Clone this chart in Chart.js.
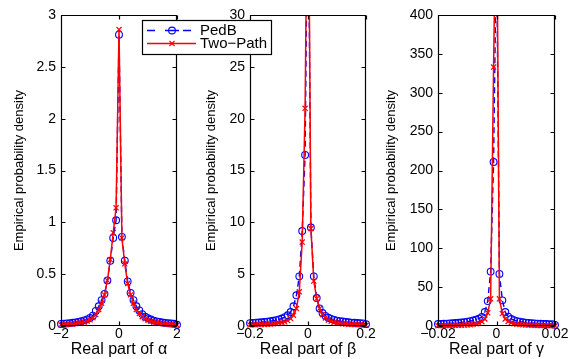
<!DOCTYPE html>
<html>
<head>
<meta charset="utf-8">
<title>Empirical probability density</title>
<script src="https://cdn.jsdelivr.net/npm/chart.js@4.4.1/dist/chart.umd.min.js"></script>
<style>
  body { margin: 0; background: #fff; }
  #wrap { position: relative; width: 570px; height: 359px; overflow: hidden; }
  #wrap canvas { position: absolute; left: 0; top: 0; }
</style>
</head>
<body>
<div id="wrap">
  <canvas id="beta" width="570" height="359"></canvas>
  <canvas id="gamma" width="570" height="359"></canvas>
  <canvas id="alpha" width="570" height="359"></canvas>
</div>
<script>
// histogram bin centres and densities for the three coefficients
const alphaX = [-2, -1.9, -1.8, -1.7, -1.6, -1.5, -1.4, -1.3, -1.2, -1.1, -1, -0.9, -0.8, -0.7, -0.6, -0.5, -0.4, -0.3, -0.2, -0.1,
  0, 0.1, 0.2, 0.3, 0.4, 0.5, 0.6, 0.7, 0.8, 0.9, 1, 1.1, 1.2, 1.3, 1.4, 1.5, 1.6, 1.7, 1.8, 1.9, 2];
const alphaPedB = [0.02, 0.022, 0.025, 0.028, 0.031, 0.035, 0.04, 0.046, 0.054, 0.064, 0.078, 0.1, 0.145, 0.19, 0.25, 0.31, 0.44, 0.63, 0.85, 1.02,
  2.81, 0.86, 0.63, 0.43, 0.32, 0.25, 0.19, 0.15, 0.115, 0.09, 0.075, 0.062, 0.052, 0.045, 0.039, 0.034, 0.03, 0.027, 0.024, 0.021, 0.012];
const alphaTwoPath = [0.012, 0.014, 0.016, 0.018, 0.02, 0.023, 0.027, 0.032, 0.038, 0.047, 0.06, 0.08, 0.11, 0.16, 0.22, 0.3, 0.44, 0.64, 0.9, 1.14,
  2.86, 0.85, 0.6, 0.41, 0.3, 0.22, 0.16, 0.12, 0.09, 0.07, 0.056, 0.046, 0.038, 0.032, 0.027, 0.023, 0.02, 0.017, 0.015, 0.013, 0.008];

const betaX = [-0.2, -0.19, -0.18, -0.17, -0.16, -0.15, -0.14, -0.13, -0.12, -0.11, -0.1, -0.09, -0.08, -0.07, -0.06, -0.05, -0.04, -0.03, -0.02, -0.01,
  0, 0.01, 0.02, 0.03, 0.04, 0.05, 0.06, 0.07, 0.08, 0.09, 0.1, 0.11, 0.12, 0.13, 0.14, 0.15, 0.16, 0.17, 0.18, 0.19, 0.2];
const betaPedB = [0.28, 0.3, 0.32, 0.34, 0.36, 0.39, 0.42, 0.46, 0.5, 0.56, 0.63, 0.72, 0.85, 1.03, 1.35, 1.9, 2.96, 4.79, 9.16, 16.5,
  45, 9.5, 4.79, 2.7, 1.7, 1.25, 0.98, 0.8, 0.68, 0.59, 0.52, 0.47, 0.43, 0.39, 0.36, 0.33, 0.31, 0.29, 0.27, 0.25, 0.18];
const betaTwoPath = [0.1, 0.11, 0.12, 0.13, 0.14, 0.15, 0.17, 0.19, 0.21, 0.24, 0.28, 0.33, 0.4, 0.52, 0.72, 1.03, 1.68, 3.3, 8.1, 21,
  50, 9.4, 4.34, 2.64, 1.68, 1.1, 0.78, 0.58, 0.45, 0.36, 0.3, 0.26, 0.22, 0.19, 0.17, 0.15, 0.13, 0.12, 0.11, 0.1, 0.07];

const gammaX = [-0.02, -0.019, -0.018, -0.017, -0.016, -0.015, -0.014, -0.013, -0.012, -0.011, -0.01, -0.009, -0.008, -0.007, -0.006, -0.005, -0.004, -0.003, -0.002, -0.001,
  0, 0.001, 0.002, 0.003, 0.004, 0.005, 0.006, 0.007, 0.008, 0.009, 0.01, 0.011, 0.012, 0.013, 0.014, 0.015, 0.016, 0.017, 0.018, 0.019, 0.02];
const gammaPedB = [2.5, 2.7, 2.9, 3.1, 3.3, 3.5, 3.8, 4.1, 4.5, 5, 5.5, 6.2, 7, 8, 9.5, 11.6, 18, 32, 70, 211,
  500, 67, 33, 18, 12, 9, 7.5, 6.3, 5.5, 4.8, 4.3, 3.9, 3.6, 3.3, 3.1, 2.9, 2.7, 2.5, 2.4, 2.2, 1.5];
const gammaTwoPath = [0.4, 0.45, 0.5, 0.55, 0.6, 0.7, 0.8, 0.9, 1, 1.2, 1.4, 1.7, 2.1, 2.7, 3.6, 5.5, 9, 17, 35, 333,
  600, 35, 16, 9, 5.8, 4, 3, 2.3, 1.9, 1.6, 1.3, 1.1, 0.95, 0.8, 0.7, 0.6, 0.55, 0.5, 0.45, 0.4, 0.3];

// axis ticks
const alphaXTicks = [-2, 0, 2];
const alphaXLabels = ['\u22122', '0', '2'];
const alphaYTicks = [0, 0.5, 1, 1.5, 2, 2.5, 3];
const betaXTicks = [-0.2, 0, 0.2];
const betaXLabels = ['\u22120.2', '0', '0.2'];
const betaYTicks = [0, 5, 10, 15, 20, 25, 30];
const gammaXTicks = [-0.02, 0, 0.02];
const gammaXLabels = ['\u22120.02', '0', '0.02'];
const gammaYTicks = [0, 50, 100, 150, 200, 250, 300, 350, 400];

const seriesNames = ['PedB', 'Two\u2212Path'];

const FONT = '"Liberation Sans", Arial, Helvetica, sans-serif';
Chart.defaults.font.family = FONT;
Chart.defaults.color = '#000';

const W = 570, H = 359;
const AREA_TOP = 15, AREA_BOTTOM = 326;
const Y_TITLE_SIZE = 13;

// box around the plot area with inward ticks on all four sides
const frame = {
  id: 'frame',
  afterDatasetsDraw(chart) {
    const { ctx, chartArea: a, scales: { x, y } } = chart;
    const l = Math.round(a.left) + 0.5, r = Math.round(a.right) - 0.5;
    const t = Math.round(a.top) + 0.5, b = Math.round(a.bottom) - 0.5;
    ctx.save();
    ctx.strokeStyle = '#000';
    ctx.lineWidth = 1.2;
    ctx.beginPath();
    y.ticks.forEach(tk => {
      const py = Math.round(y.getPixelForValue(tk.value)) + 0.5;
      ctx.moveTo(l, py); ctx.lineTo(l + 4, py);
      ctx.moveTo(r, py); ctx.lineTo(r - 4, py);
    });
    x.ticks.forEach(tk => {
      const px = Math.round(x.getPixelForValue(tk.value)) + 0.5;
      ctx.moveTo(px, b); ctx.lineTo(px, b - 4);
      ctx.moveTo(px, t); ctx.lineTo(px, t + 4);
    });
    ctx.rect(l, t, r - l, b - t);
    ctx.stroke();
    ctx.restore();
  }
};

// legend box drawn with the first panel, on top of everything
const legendBox = {
  id: 'legendBox',
  afterDraw(chart) {
    const ctx = chart.ctx;
    const [ped, two] = chart.data.datasets;
    const bx = 142, by = 20, bw = 129, bh = 34;
    ctx.save();
    ctx.fillStyle = '#fff';
    ctx.fillRect(bx, by, bw, bh);
    ctx.strokeStyle = '#000';
    ctx.lineWidth = 1.2;
    ctx.strokeRect(bx + 0.5, by + 0.5, bw, bh);

    const y1 = 30.5, y2 = 43.5;
    ctx.strokeStyle = ped.borderColor;
    ctx.lineWidth = ped.borderWidth;
    ctx.beginPath();
    ctx.moveTo(147, y1); ctx.lineTo(155, y1);
    ctx.moveTo(165, y1); ctx.lineTo(179, y1);
    ctx.moveTo(183, y1); ctx.lineTo(191, y1);
    ctx.stroke();
    ctx.fillStyle = 'rgba(0,0,0,0)';
    ctx.lineWidth = ped.pointBorderWidth;
    Chart.helpers.drawPoint(ctx, { pointStyle: ped.pointStyle, radius: ped.pointRadius, borderWidth: 1, rotation: 0 }, 172, y1);

    ctx.strokeStyle = two.borderColor;
    ctx.lineWidth = two.borderWidth;
    ctx.beginPath();
    ctx.moveTo(147, y2); ctx.lineTo(196, y2);
    ctx.stroke();
    ctx.lineWidth = two.pointBorderWidth;
    Chart.helpers.drawPoint(ctx, { pointStyle: two.pointStyle, radius: two.pointRadius, borderWidth: 1, rotation: 0 }, 172, y2);

    ctx.fillStyle = '#000';
    ctx.font = '15px ' + FONT;
    ctx.textBaseline = 'middle';
    ctx.textAlign = 'left';
    ctx.fillText(ped.label, 200, y1);
    ctx.fillText(two.label, 200, y2 + 0.5);
    ctx.restore();
  }
};

function points(xs, ys) {
  return xs.map((x, i) => ({ x, y: ys[i] }));
}

function makePanel(id, p, extra) {
  const padLeft = p.titleX - Y_TITLE_SIZE * 1.2 / 2;
  const clip = { left: 6, right: 6, top: 0, bottom: 6 };
  return new Chart(document.getElementById(id), {
    type: 'line',
    data: {
      datasets: [
        {
          label: seriesNames[0],
          data: points(p.x, p.pedB),
          borderColor: '#0000ff',
          borderWidth: 1.4,
          borderDash: [6, 4],
          pointStyle: 'circle',
          pointRadius: 3.4,
          pointBorderWidth: 1.1,
          pointBorderColor: '#0000ff',
          pointBackgroundColor: 'rgba(0,0,0,0)',
          tension: 0,
          order: 1,
          clip
        },
        {
          label: seriesNames[1],
          data: points(p.x, p.twoPath),
          borderColor: '#ff0000',
          borderWidth: 1.5,
          pointStyle: 'crossRot',
          pointRadius: 3.6,
          pointBorderWidth: 1.2,
          pointBorderColor: '#ff0000',
          tension: 0,
          order: 0,
          clip
        }
      ]
    },
    options: {
      responsive: false,
      animation: false,
      events: [],
      layout: { padding: { left: padLeft, right: W - p.right, top: AREA_TOP, bottom: 0 } },
      plugins: { legend: { display: false }, tooltip: { enabled: false } },
      scales: {
        x: {
          type: 'linear',
          min: p.xTicks[0],
          max: p.xTicks[p.xTicks.length - 1],
          grid: { display: false, drawTicks: false },
          border: { display: false },
          afterBuildTicks: s => { s.ticks = p.xTicks.map(v => ({ value: v })); },
          ticks: { padding: 0, maxRotation: 0, autoSkip: false, font: { size: 14 }, callback: (v, i) => p.xLabels[i] },
          title: { display: true, text: p.xTitle, font: { size: 16 }, padding: 0 },
          afterFit: s => { s.height = H - AREA_BOTTOM; }
        },
        y: {
          type: 'linear',
          min: p.yTicks[0],
          max: p.yTicks[p.yTicks.length - 1],
          grid: { display: false, drawTicks: false },
          border: { display: false },
          afterBuildTicks: s => { s.ticks = p.yTicks.map(v => ({ value: v })); },
          ticks: { padding: 5, font: { size: 14 }, callback: v => String(v) },
          title: { display: true, text: 'Empirical probability density', font: { size: Y_TITLE_SIZE }, padding: 0 },
          afterFit: s => { s.width = p.left - padLeft; }
        }
      }
    },
    plugins: extra ? [frame, extra] : [frame]
  });
}

makePanel('beta', {
  x: betaX, pedB: betaPedB, twoPath: betaTwoPath,
  xTicks: betaXTicks, xLabels: betaXLabels, yTicks: betaYTicks,
  xTitle: 'Real part of \u03b2', left: 250, right: 366, titleX: 211.5
});
makePanel('gamma', {
  x: gammaX, pedB: gammaPedB, twoPath: gammaTwoPath,
  xTicks: gammaXTicks, xLabels: gammaXLabels, yTicks: gammaYTicks,
  xTitle: 'Real part of \u03b3', left: 438, right: 555, titleX: 391.5
});
makePanel('alpha', {
  x: alphaX, pedB: alphaPedB, twoPath: alphaTwoPath,
  xTicks: alphaXTicks, xLabels: alphaXLabels, yTicks: alphaYTicks,
  xTitle: 'Real part of \u03b1', left: 61, right: 177, titleX: 19
}, legendBox);
</script>
</body>
</html>
